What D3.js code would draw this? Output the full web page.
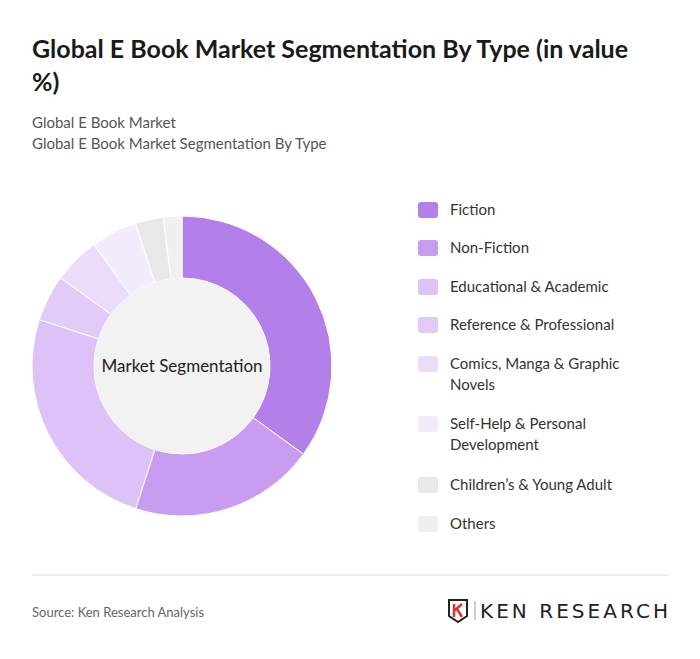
<!DOCTYPE html><html><head><meta charset="utf-8">
<script src="https://cdn.jsdelivr.net/npm/d3@7"></script>
<style>body{margin:0;background:#fff;font-family:Lato,"Noto Sans",sans-serif;}</style></head><body>
<svg id="c" width="700" height="659"></svg>
<script>
const categories=["Fiction","Non-Fiction","Educational & Academic","Reference & Professional","Comics, Manga & Graphic Novels","Self-Help & Personal Development","Children’s & Young Adult","Others"];
const values=[35,20,25,5,5,5,3,2];
const colors=["#b37fe9","#c89cef","#dcc2f6","#e2cbf7","#ebdcfa","#f3ecfc","#e8e8e8","#f0f0f0"];
const legendLines=[["Fiction"],["Non-Fiction"],["Educational & Academic"],["Reference & Professional"],["Comics, Manga & Graphic","Novels"],["Self-Help & Personal","Development"],["Children’s & Young Adult"],["Others"]];
const svg=d3.select("#c");
svg.append("rect").attr("width",700).attr("height",659).attr("fill","#fff");
svg.append("text").attr("x",32).attr("y",58).attr("font-size",25).attr("font-weight",700).attr("fill","#1a1a1a").text("Global E Book Market Segmentation By Type (in value");
svg.append("text").attr("x",32).attr("y",91).attr("font-size",25).attr("font-weight",700).attr("fill","#1a1a1a").text("%)");
svg.append("text").attr("x",32).attr("y",128).attr("font-size",15).attr("fill","#555").text("Global E Book Market");
svg.append("text").attr("x",32).attr("y",149).attr("font-size",15).attr("fill","#555").text("Global E Book Market Segmentation By Type");
const g=svg.append("g").attr("transform","translate(182,366)");
const pie=d3.pie().sort(null).value(d=>d)(values);
const arc=d3.arc().innerRadius(88).outerRadius(150);
g.selectAll("path").data(pie).join("path").attr("d",arc).attr("fill",(d,i)=>colors[i]).attr("stroke","#fff").attr("stroke-width",1);
g.append("circle").attr("r",88).attr("fill","#f2f2f2");
g.append("text").attr("text-anchor","middle").attr("dy","0.35em").attr("font-size",17).attr("fill","#222").text("Market Segmentation");
const ys=[210,248,287,325,364,424,485,524];
const lg=svg.append("g");
legendLines.forEach((ls,i)=>{
 lg.append("rect").attr("x",418).attr("y",ys[i]-8).attr("width",20).attr("height",16).attr("rx",3).attr("fill",colors[i]);
 ls.forEach((t,j)=>lg.append("text").attr("x",450).attr("y",ys[i]+j*21).attr("dy","0.35em").attr("font-size",15).attr("fill","#333").text(t));
});
svg.append("line").attr("x1",32).attr("x2",668).attr("y1",575).attr("y2",575).attr("stroke","#ddd");
svg.append("text").attr("x",32).attr("y",617).attr("font-size",13).attr("fill","#666").text("Source: Ken Research Analysis");
const lo=svg.append("g").attr("transform","translate(449,600)");
lo.append("path").attr("d","M0,0H18V16L9,22L0,16Z").attr("fill","none").attr("stroke","#222").attr("stroke-width",2);
lo.append("path").attr("d","M5,4V17M5,11L13,4M8,9L13,17").attr("fill","none").attr("stroke","#e0322f").attr("stroke-width",2.5);
lo.append("line").attr("x1",26).attr("x2",26).attr("y1",1).attr("y2",20).attr("stroke","#999");
lo.append("text").attr("x",31).attr("y",18).attr("font-size",20).attr("font-family","'DejaVu Sans',sans-serif").attr("textLength",188).attr("fill","#222").text("KEN RESEARCH");
</script></body></html>
